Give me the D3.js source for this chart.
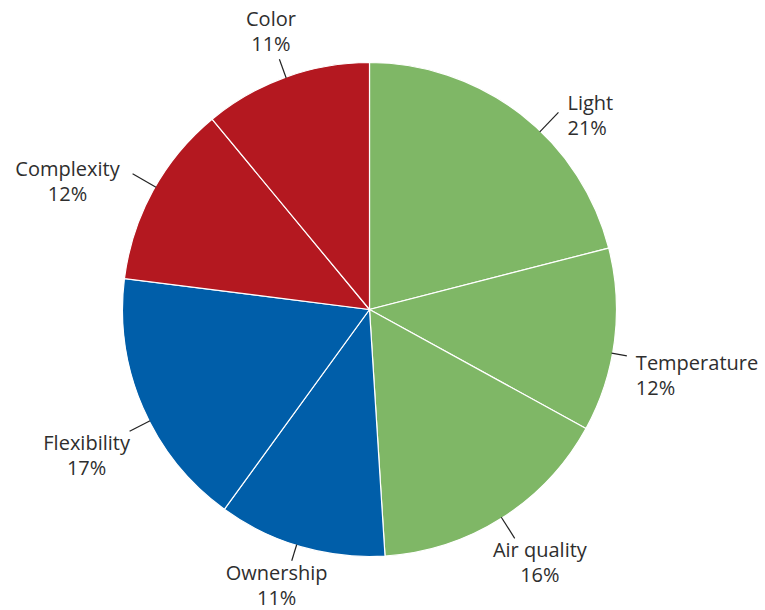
<!DOCTYPE html>
<html>
<head>
<meta charset="utf-8">
<script src="https://d3js.org/d3.v7.min.js"></script>
<style>
  body { margin: 0; background: #fff; }
  text { font-family: "Open Sans", "Noto Sans", sans-serif; fill: #2e2e2e; }
</style>
</head>
<body>
<div id="chart"></div>
<script>
// data, clockwise from 12 o'clock
var categories = ["Light", "Temperature", "Air quality", "Ownership", "Flexibility", "Complexity", "Color"];
var shares = [21, 12, 16, 11, 17, 12, 11];
var groups = ["env", "env", "env", "ctl", "ctl", "look", "look"];

var colors = { env: "#7fb766", ctl: "#005ea9", look: "#b41820" };

var width = 765, height = 610;
var cx = 369.5, cy = 309.5, radius = 247;

// labels were dragged a little in the original: angle (deg) and leader length tweaks
var leaderNudge = { "Light": 6, "Temperature": 3, "Ownership": 1, "Flexibility": -3.5, "Complexity": 1 };
var leaderStretch = { "Light": 6, "Temperature": -5.5, "Air quality": 4, "Ownership": -4, "Flexibility": 2, "Complexity": 6, "Color": -1 };

var data = categories.map(function (c, i) {
    return { name: c, value: shares[i], group: groups[i] };
});

var svg = d3.select("#chart")
    .append("svg")
    .attr("width", width)
    .attr("height", height);

var g = svg.append("g")
    .attr("transform", "translate(" + cx + "," + cy + ")");

var pie = d3.pie()
    .sort(null)
    .value(function (d) { return d.value; });

var arc = d3.arc()
    .innerRadius(0)
    .outerRadius(radius);

var arcs = pie(data);

g.selectAll("path.slice")
    .data(arcs)
    .enter()
    .append("path")
    .attr("class", "slice")
    .attr("d", arc)
    .attr("fill", function (d) { return colors[d.data.group]; })
    .attr("stroke", "#fff")
    .attr("stroke-width", 1.2);

function midAngle(d) {
    var a = (d.startAngle + d.endAngle) / 2;
    return a + (leaderNudge[d.data.name] || 0) * Math.PI / 180;
}

function leaderOut(d) {
    return radius + 20 + (leaderStretch[d.data.name] || 0);
}

function polar(a, r) {
    return [Math.sin(a) * r, -Math.cos(a) * r];
}

var lab = g.selectAll("g.label")
    .data(arcs)
    .enter()
    .append("g")
    .attr("class", "label");

lab.append("line")
    .attr("x1", function (d) { return polar(midAngle(d), radius - 1)[0]; })
    .attr("y1", function (d) { return polar(midAngle(d), radius - 1)[1]; })
    .attr("x2", function (d) { return polar(midAngle(d), leaderOut(d))[0]; })
    .attr("y2", function (d) { return polar(midAngle(d), leaderOut(d))[1]; })
    .attr("stroke", "#222")
    .attr("stroke-width", 1.2);

lab.each(function (d) {
    var a = midAngle(d);
    var e = polar(a, leaderOut(d));
    var s = Math.sin(a), c = Math.cos(a);

    var t = d3.select(this).append("text")
        .style("font-size", "20px");
    var l1 = t.append("tspan").text(d.data.name);
    var l2 = t.append("tspan").text(d3.format(".0%")(d.data.value / 100));
    var w = Math.max(l1.node().getComputedTextLength(), l2.node().getComputedTextLength());

    var anchor, x, y1, gap = 25;
    if (s > 0.6) {
        // right side: left aligned, leader meets first line
        anchor = "start"; x = e[0] + 9; y1 = e[1] + 11 - 18 * c;
    } else if (s < -0.6) {
        // left side: centred block to the left of the leader
        anchor = "middle"; x = e[0] - 6 - 14 * c - w / 2; y1 = e[1] + 11 - 18 * c;
    } else if (c > 0) {
        anchor = "middle"; x = e[0] + s * w / 2; y1 = e[1] - 8 - gap;
    } else {
        anchor = "middle"; x = e[0] + s * w / 2; y1 = e[1] + 19;
    }
    t.attr("text-anchor", anchor);
    l1.attr("x", x).attr("y", y1);
    l2.attr("x", x).attr("y", y1 + gap);
});
</script>
</body>
</html>
